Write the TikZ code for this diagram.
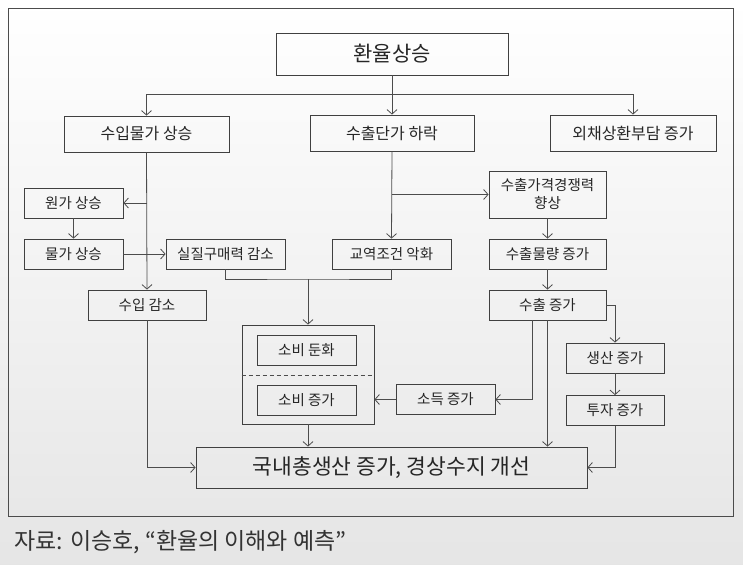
\documentclass[tikz,border=0pt]{standalone}
\usepackage{fontspec}
\setmainfont{Noto Sans CJK KR}
\usetikzlibrary{arrows.meta}

\begin{document}
\begin{tikzpicture}[x=1pt,y=-1pt,
  box/.style={draw=black!75,line width=0.8pt,inner sep=0pt,minimum height=30pt,text=black!85,font=\fontsize{14.5}{18}\selectfont},
  big/.style={box,minimum height=36pt,font=\fontsize{16}{18}\selectfont},
  arr/.style={draw=black!70,line width=0.8pt,-{Straight Barb[length=4.5pt,width=10pt]}},
  line/.style={draw=black!70,line width=0.8pt}]
  \useasboundingbox (0,0) rectangle (743,564);
  \shade[top color=white,bottom color=black!10] (0,0) rectangle (743,564);
  \draw[line] (8,8) rectangle (733,516);
  \node[anchor=west,text=black!80,font=\fontsize{23}{26}\selectfont] (src) at (11,542) {자료: 이승호, “환율의 이해와 예측”};

  \node[box,minimum width=232pt,minimum height=42pt,font=\fontsize{21}{24}\selectfont] (rate) at (392,54) {환율상승};
  \node[big,minimum width=165pt] (impP) at (146.5,134) {수입물가 상승};
  \node[big,minimum width=164pt] (expP) at (392,133) {수출단가 하락};
  \node[big,minimum width=166pt] (debt) at (633,133) {외채상환부담 증가};
  \node[box,minimum width=99pt] (cost) at (73.5,203) {원가 상승};
  \node[box,minimum width=99pt] (price) at (73.5,254) {물가 상승};
  \node[box,minimum width=119pt] (real) at (225.5,254) {실질구매력 감소};
  \node[box,minimum width=119pt] (tot) at (391.5,254) {교역조건 악화};
  \node[box,minimum width=117pt,minimum height=47pt,align=center] (comp) at (547.5,194.5) {수출가격경쟁력\\향상};
  \node[box,minimum width=117pt] (vol) at (547.5,254) {수출물량 증가};
  \node[box,minimum width=118pt] (impD) at (147,305) {수입 감소};
  \node[box,minimum width=117pt] (exp) at (547.5,305) {수출 증가};
  \node[box,minimum width=132pt,minimum height=99pt] (cons) at (308,374.5) {};
  \node[box,minimum width=99pt] (slow) at (306.5,350) {소비 둔화};
  \node[box,minimum width=99pt] (consU) at (306.5,400) {소비 증가};
  \node[box,minimum width=99pt] (inc) at (445.5,399.5) {소득 증가};
  \node[box,minimum width=98pt] (prod) at (615,358) {생산 증가};
  \node[box,minimum width=98pt] (inv) at (615,410.5) {투자 증가};
  \node[box,minimum width=391pt,minimum height=41pt,font=\fontsize{21.5}{24}\selectfont] (gdp) at (391.5,467.5) {국내총생산 증가, 경상수지 개선};
  \draw[line,dashed,dash pattern=on 4pt off 3pt] (cons.west |- 0,375) -- (cons.east |- 0,375);

  \coordinate (split) at (392,94);
  \coordinate (join) at (308,279);
  \draw[arr] (rate.south) -- (expP.north);
  \draw[arr] (split) -| (impP.north);
  \draw[arr] (split) -| (debt.north);
  \draw[arr] (impP.south) -- (impD.north);
  \draw[arr] (impP.south |- cost.east) -- (cost.east);
  \draw[arr] (cost.south) -- (price.north);
  \draw[arr] (price.east) -- (real.west);
  \draw[line] (real.south) |- (join) -| (tot.south);
  \draw[arr] (join) -- (cons.north);
  \draw[arr] (expP.south) -- (tot.north);
  \draw[arr] (expP.south |- comp.west) -- (comp.west);
  \draw[arr] (comp.south) -- (vol.north);
  \draw[arr] (vol.south) -- (exp.north);
  \draw[arr] (exp.east) -| (prod.north);
  \draw[arr] (prod.south) -- (inv.north);
  \draw[arr] (inv.south) |- (gdp.east);
  \draw[arr] (exp.south) -- (exp.south |- gdp.north);
  \draw[arr] ([xshift=-15pt]exp.south) |- (inc.east);
  \draw[arr] (inc.west) -- (cons.east |- inc.west);
  \draw[arr] (cons.south) -- (cons.south |- gdp.north);
  \draw[arr] (impD.south) |- (gdp.west);
\end{tikzpicture}
\end{document}
